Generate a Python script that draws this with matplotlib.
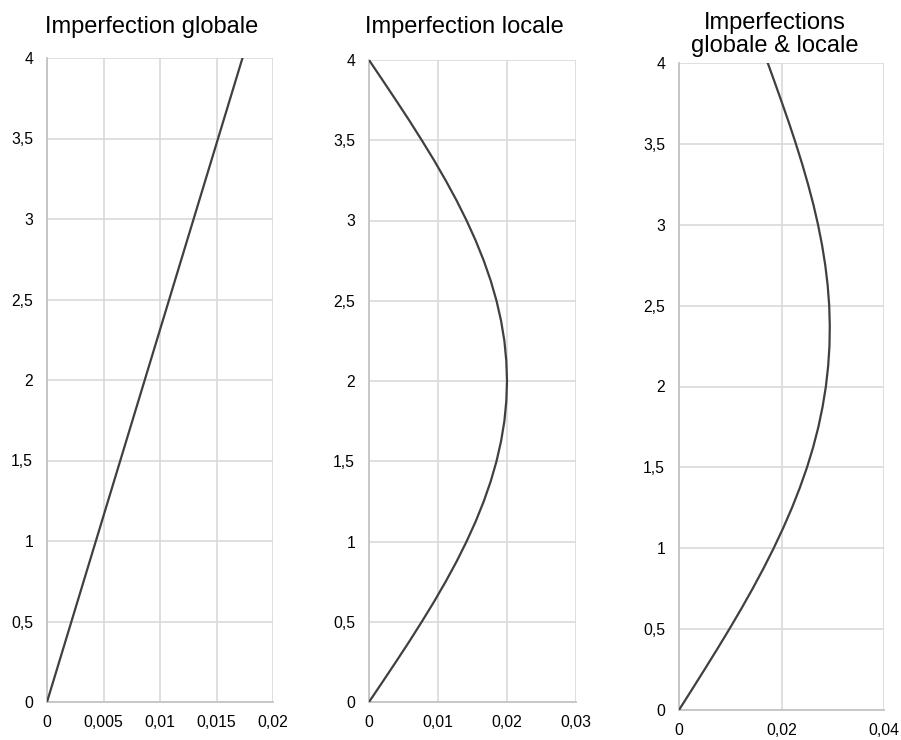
import numpy as np
import matplotlib
matplotlib.use('Agg')
import matplotlib.pyplot as plt
from matplotlib.ticker import FuncFormatter, MultipleLocator

plt.rcParams['font.family'] = ['Liberation Sans', 'DejaVu Sans']

# hauteur (m)
z = [0, 0.125, 0.25, 0.375, 0.5, 0.625, 0.75, 0.875, 1, 1.125, 1.25, 1.375, 1.5,
     1.625, 1.75, 1.875, 2, 2.125, 2.25, 2.375, 2.5, 2.625, 2.75, 2.875, 3,
     3.125, 3.25, 3.375, 3.5, 3.625, 3.75, 3.875, 4]

# imperfection globale
z_glob = [0, 4]
u_glob = [0, 0.0173]

# imperfection locale
u_loc = [0, 0.00196, 0.0039, 0.00581, 0.00765, 0.00943, 0.01111, 0.01269, 0.01414,
         0.01546, 0.01663, 0.01764, 0.01848, 0.01914, 0.01962, 0.0199, 0.02,
         0.0199, 0.01962, 0.01914, 0.01848, 0.01764, 0.01663, 0.01546, 0.01414,
         0.01269, 0.01111, 0.00943, 0.00765, 0.00581, 0.0039, 0.00196, 0]

# imperfections globale & locale
u_tot = [0, 0.0025, 0.00498, 0.00743, 0.00982, 0.01214, 0.01436, 0.01648, 0.01847,
         0.02033, 0.02204, 0.02359, 0.02498, 0.02618, 0.0272, 0.02802, 0.02866,
         0.0291, 0.02936, 0.02942, 0.02931, 0.02901, 0.02854, 0.02791, 0.02713,
         0.02622, 0.02518, 0.02404, 0.02281, 0.02151, 0.02014, 0.01874, 0.01732]

titles = ['Imperfection globale', 'Imperfection locale', 'Imperfections\nglobale & locale']
xmax = [0.02, 0.03, 0.04]
xstep = [0.005, 0.01, 0.02]

W, H = 901, 740
fig = plt.figure(figsize=(W/100, H/100), dpi=100)

# axes boxes in pixels: left, right, top, bottom
boxes = [(47, 273, 58, 702), (369, 576, 60, 702), (679, 884, 63, 710)]
title_pos = [(152, 33), (464, 33), (775, 52)]

fmt = FuncFormatter(lambda v, p: ('%g' % round(v, 6)).replace('.', ','))

data = [(u_glob, z_glob), (u_loc, z), (u_tot, z)]
for i, (l, r, t, b) in enumerate(boxes):
    ax = fig.add_axes([l/W, 1-b/H, (r-l)/W, (b-t)/H])
    x, y = data[i]
    ax.plot(x, y, color='#404040', lw=1.6, solid_joinstyle='round', zorder=3)
    ax.set_xlim(0, xmax[i])
    ax.set_ylim(0, 4)
    ax.xaxis.set_major_locator(MultipleLocator(xstep[i]))
    ax.yaxis.set_major_locator(MultipleLocator(0.5))
    ax.xaxis.set_major_formatter(fmt)
    ax.yaxis.set_major_formatter(fmt)
    ax.grid(True, color='#d9d9d9', lw=1.2)
    ax.set_axisbelow(True)
    for s in ['top', 'right']:
        ax.spines[s].set_visible(False)
    for s in ['left', 'bottom']:
        ax.spines[s].set_color('#c4c4c4')
        ax.spines[s].set_linewidth(1.3)
    ax.tick_params(length=0, labelsize=11.3, colors='#000000', pad=9.5)
    ax.tick_params(axis='y', pad=10)
    tx, ty = title_pos[i]
    fig.text(tx/W, 1-ty/H, titles[i], ha='center', va='baseline', fontsize=17,
             linespacing=1.05)

fig.savefig('out.png', dpi=100)
